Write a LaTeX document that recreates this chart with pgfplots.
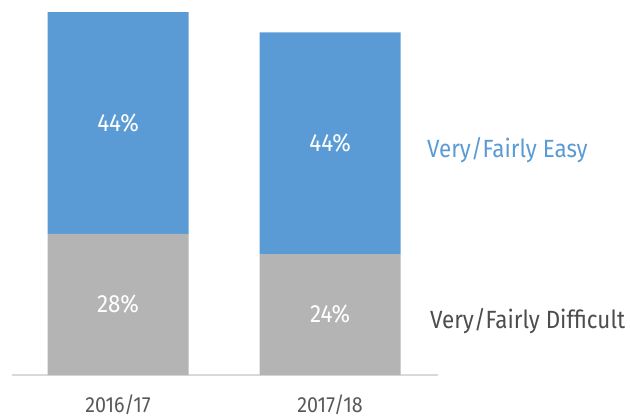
\documentclass[border=0pt]{standalone}
\usepackage{pgfplots}
\pgfplotsset{compat=1.18}
\usepackage{fontspec}
\setmainfont[FakeStretch=0.9]{Fira Sans}

\definecolor{easyblue}{HTML}{5B9BD5}
\definecolor{diffgrey}{HTML}{B4B4B4}
\definecolor{ticktext}{HTML}{595959}
\definecolor{darktext}{HTML}{4D4D4D}
\definecolor{axisgrey}{HTML}{D9D9D9}

\begin{document}
\begin{tikzpicture}
\path[use as bounding box] (0,0) rectangle (630bp,417bp);
\begin{axis}[
    at={(12bp,42bp)}, anchor=south west,
    scale only axis,
    width=426bp, height=375bp,
    ybar stacked,
    bar width=141bp,
    xmin=-0.5, xmax=1.509,
    ymin=0, ymax=74.4,
    axis x line*=bottom,
    axis y line=none,
    x axis line style={draw=axisgrey, line width=1.6bp, -},
    xtick={0,1},
    xticklabels={2016/17, 2017/18},
    major tick length=0pt,
    xticklabel style={font=\fontsize{22}{24}\selectfont, text=ticktext, anchor=base, yshift=-37bp},
    clip=false,
]
% Very/Fairly Difficult
\addplot[fill=diffgrey, draw=none] coordinates {(0,28) (1,24)};
% Very/Fairly Easy
\addplot[fill=easyblue, draw=none] coordinates {(0,44) (1,44)};

\coordinate (d1) at (axis cs:0,14);
\coordinate (d2) at (axis cs:1,12);
\coordinate (e1) at (axis cs:0,50);
\coordinate (e2) at (axis cs:1,46);
\end{axis}
\begin{scope}[every node/.style={text=white, font=\fontsize{25}{28}\selectfont}]
\node at (d1) {28\%};
\node at (d2) {24\%};
\node at (e1) {44\%};
\node at (e2) {44\%};
\end{scope}
\node[anchor=base west, inner sep=0pt, text=easyblue, font=\fontsize{25}{28}\selectfont] at (427bp,259.5bp) {Very/Fairly Easy};
\node[anchor=base west, inner sep=0pt, text=darktext, font=\fontsize{25}{28}\selectfont] at (430bp,88.7bp) {Very/Fairly Difficult};
\end{tikzpicture}
\end{document}
